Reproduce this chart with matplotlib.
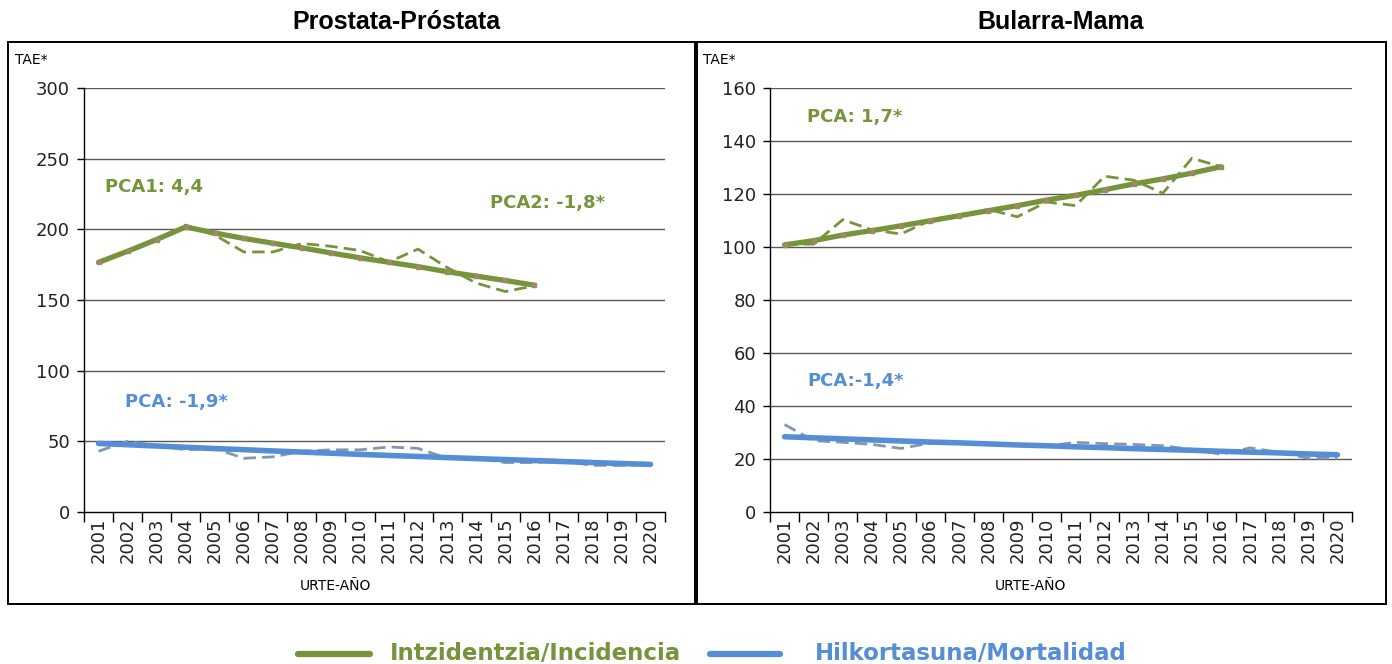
import matplotlib
matplotlib.use("Agg")
import matplotlib.pyplot as plt
from matplotlib.patches import Rectangle
from matplotlib.lines import Line2D

years = list(range(2001, 2021))
years_inc = list(range(2001, 2017))

# Prostate
prost_inc_obs = [177, 184, 192, 203, 196, 184, 184, 190, 188, 185, 177, 186, 173, 162, 156, 160]
prost_inc_fit = [176.6, 184.5, 192.8, 201.7, 197.4, 193.6, 190.2, 186.9, 183.3, 179.8, 176.7, 173.6, 170.0, 166.9, 163.8, 160.5]
prost_mort_obs = [43, 50, 47, 44, 45, 38, 39, 43, 44, 44, 46, 45, 38, 38, 35, 35, 36, 33, 33, 33.5]
prost_mort_fit = [48.5, 47.6, 46.7, 45.8, 44.9, 44.1, 43.2, 42.4, 41.6, 40.8, 40.0, 39.3, 38.5, 37.8, 37.1, 36.4, 35.7, 35.0, 34.3, 33.7]

# Breast
breast_inc_obs = [101, 101.1, 110.3, 106.5, 104.9, 110, 111.8, 114.2, 111.4, 117, 115.6, 126.7, 125.2, 120.3, 133.5, 130.3]
breast_inc_fit = [100.8, 102.4, 104.5, 106.2, 108.0, 109.9, 111.8, 113.7, 115.6, 117.7, 119.5, 121.6, 123.8, 125.7, 127.9, 130.3]
breast_mort_obs = [33, 26.9, 26.3, 25.5, 24, 26, 26, 25.8, 25, 24.8, 26.3, 25.8, 25.5, 25, 23.6, 21.8, 24.2, 22.5, 20.3, 20.3]
breast_mort_fit = [28.4, 28.0, 27.6, 27.2, 26.8, 26.4, 26.1, 25.7, 25.3, 25.0, 24.6, 24.3, 23.9, 23.6, 23.3, 22.9, 22.6, 22.3, 21.9, 21.6]

titles = ["Prostata-Próstata", "Bularra-Mama"]
pca_texts = [[("PCA1: 4,4", 105, 187, "g"), ("PCA2: -1,8*", 490, 203, "g"), ("PCA: -1,9*", 125, 402, "b")],
             [("PCA: 1,7*", 807, 117, "g"), ("PCA:-1,4*", 807, 381, "b")]]

GREEN = "#77933C"
BLUE = "#558ED5"
GRAYBLUE = "#8497B0"
MARK = "#9B8B63"

W, H = 1392, 664
fig = plt.figure(figsize=(W / 100, H / 100), dpi=100)
fig.patch.set_facecolor("white")

def fx(px):
    return px / W

def fy(py):
    return 1 - py / H

# frames
for x0, x1 in [(8, 695), (697, 1386)]:
    fig.patches.append(Rectangle((fx(x0), fy(604)), fx(x1 - x0), (604 - 42) / H,
                                 transform=fig.transFigure, fill=False, ec="black", lw=1.4))

panels = [
    dict(ax_px=(84, 665), ymax=300, ystep=50, inc_obs=prost_inc_obs, inc_fit=prost_inc_fit,
         mort_obs=prost_mort_obs, mort_fit=prost_mort_fit, title_x=396, tae_x=15, xl_x=335),
    dict(ax_px=(770, 1352), ymax=160, ystep=20, inc_obs=breast_inc_obs, inc_fit=breast_inc_fit,
         mort_obs=breast_mort_obs, mort_fit=breast_mort_fit, title_x=1061, tae_x=703, xl_x=1030),
]

for k, p in enumerate(panels):
    x0, x1 = p["ax_px"]
    ax = fig.add_axes([fx(x0), fy(512), fx(x1 - x0), (512 - 88) / H])
    ax.set_xlim(2000.5, 2020.5)
    ax.set_ylim(0, p["ymax"])
    for s in ["top", "right"]:
        ax.spines[s].set_visible(False)
    ax.spines["left"].set_color("black")
    ax.spines["bottom"].set_color("black")
    ax.spines["left"].set_linewidth(1.0)
    ax.spines["bottom"].set_linewidth(1.0)
    yt = list(range(0, p["ymax"] + 1, p["ystep"]))
    ax.set_yticks(yt)
    ax.set_yticklabels([str(v) for v in yt], fontsize=13, color="#222222")
    ax.tick_params(axis="y", length=5, width=1, pad=5)
    for v in yt[1:]:
        ax.axhline(v, color="#595959", lw=1.0, zorder=1)
    bounds = [y - 0.5 for y in years] + [years[-1] + 0.5]
    ax.set_xticks(bounds)
    ax.set_xticklabels([])
    ax.tick_params(axis="x", which="major", length=7, width=1, direction="out")
    ax.set_xticks(years, minor=True)
    ax.set_xticklabels([str(y) for y in years], minor=True, rotation=90, fontsize=13, color="#222222")
    ax.tick_params(axis="x", which="minor", length=0, pad=4)

    ax.plot(years_inc, p["inc_obs"], color=GREEN, lw=2.0, ls=(0, (4.5, 2.2)), zorder=3)
    ax.plot(years_inc, p["inc_fit"], color=GREEN, lw=3.8, marker="s", ms=3.2,
            mfc=MARK, mec=MARK, zorder=4, solid_joinstyle="round", solid_capstyle="round")
    ax.plot(years, p["mort_obs"], color=GRAYBLUE, lw=2.0, ls=(0, (4.5, 2.2)), zorder=3)
    ax.plot(years, p["mort_fit"], color=BLUE, lw=4.0, zorder=4, solid_capstyle="round")

    fig.text(fx(p["title_x"]), fy(22), titles[k], ha="center", va="center",
             fontsize=18, fontweight="bold", family="Liberation Sans", color="black")
    fig.text(fx(p["tae_x"]), fy(60), "TAE*", ha="left", va="center", fontsize=10, color="black")
    fig.text(fx(p["xl_x"]), fy(586), "URTE-AÑO", ha="center", va="center", fontsize=10, color="black")

    for txt, tx, ty, c in pca_texts[k]:
        fig.text(fx(tx), fy(ty), txt, ha="left", va="center", fontsize=13, fontweight="bold",
                 color=GREEN if c == "g" else BLUE, family="DejaVu Sans")

# legend
fig.lines.append(Line2D([fx(298), fx(370)], [fy(654), fy(654)], transform=fig.transFigure,
                        color=GREEN, lw=4.5, solid_capstyle="round"))
fig.text(fx(390), fy(654), "Intzidentzia/Incidencia", ha="left", va="center", fontsize=16.5,
         fontweight="bold", color=GREEN)
fig.lines.append(Line2D([fx(710), fx(780)], [fy(654), fy(654)], transform=fig.transFigure,
                        color=BLUE, lw=4.5, solid_capstyle="round"))
fig.text(fx(815), fy(654), "Hilkortasuna/Mortalidad", ha="left", va="center", fontsize=16.5,
         fontweight="bold", color=BLUE)

fig.savefig("out.png", dpi=100, facecolor="white")
